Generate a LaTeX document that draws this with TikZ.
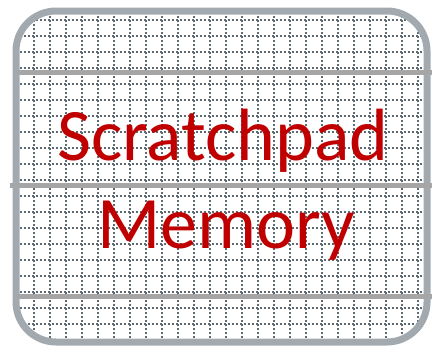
\documentclass[tikz,border=0pt]{standalone}
\usepackage{fontspec}
\setmainfont{Carlito}
\definecolor{borderc}{HTML}{A2AAB0}
\definecolor{sepc}{HTML}{A6A6A6}
\definecolor{gridc}{HTML}{5F6B73}
\definecolor{textc}{HTML}{C00000}
\tikzset{
  gridline/.style={gridc, line width=1.5pt, dash pattern=on 2pt off 2pt},
  sepline/.style={sepc, line width=5pt},
  frame/.style={borderc, line width=7pt, rounded corners=40pt},
  label/.style={textc, font=\fontsize{74}{88}\selectfont, inner sep=0pt, anchor=base}
}
\begin{document}
\begin{tikzpicture}[x=1pt,y=-1pt]
\useasboundingbox (0,0) rectangle (433,346);
\begin{scope}
  \clip[rounded corners=40pt] (16,11) rectangle (427,342);
  \foreach \i in {-1,...,25} { \draw[gridline] (18+16*\i,0) -- (18+16*\i,346); }
  \foreach \j in {-1,...,21} { \draw[gridline] (0,4+16*\j) -- (433,4+16*\j); }
\end{scope}
\draw[frame] (16,11) rectangle (427,342);
\draw[sepline] (16,72) -- (432,72);
\draw[sepline] (10,185) -- (432,185);
\draw[sepline] (16,296) -- (432,296);
\node[label] (t1) at (223,160) {Scratchpad};
\node[label] (t2) at (226,248) {Memory};
\end{tikzpicture}
\end{document}
